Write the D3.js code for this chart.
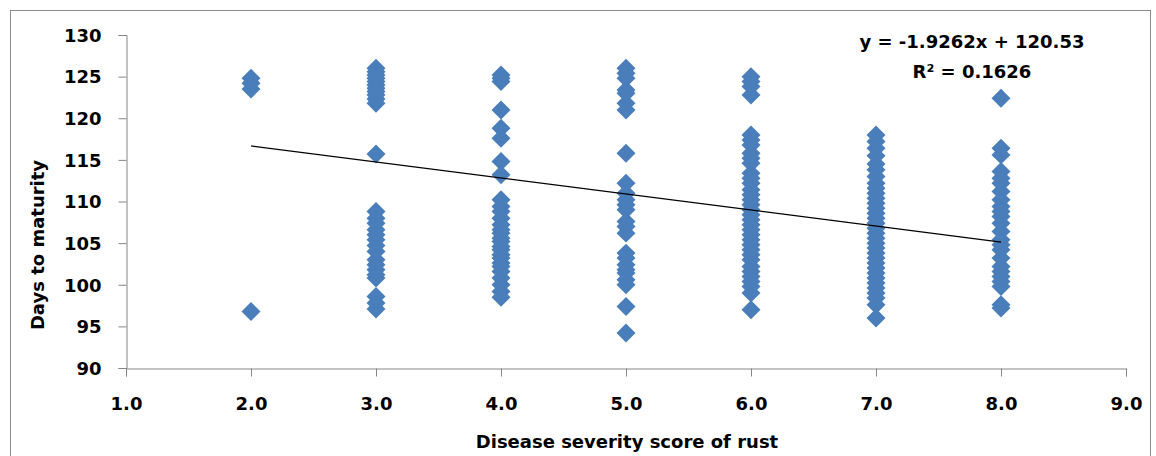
<!DOCTYPE html>
<html>
<head>
<meta charset="utf-8">
<script src="https://cdn.jsdelivr.net/npm/d3@7"></script>
<style>
  body { margin: 0; background: #fff; }
  svg text { font-family: "DejaVu Sans", sans-serif; font-weight: bold; fill: #000; }
</style>
</head>
<body>
<svg id="chart" width="1156" height="456"></svg>
<script>
// days to maturity, grouped by rust score
const score2 = [124.8, 124.2, 123.5, 96.8];
const score3 = [126.0, 125.6, 125.2, 124.8, 124.4, 124.0, 123.6, 123.2, 122.8, 122.3, 121.8,
                115.7, 108.8, 108.0, 107.4, 106.6, 106.0, 105.4, 104.7, 104.0, 103.0, 102.4,
                101.8, 101.2, 100.8, 98.6, 97.8, 97.1];
const score4 = [125.2, 124.8, 124.4, 121.0, 118.8, 117.6, 114.8, 113.2, 110.2, 109.4, 108.8,
                108.0, 107.2, 106.6, 106.2, 105.6, 105.2, 104.6, 104.2, 103.6, 103.2, 102.6,
                102.2, 101.6, 100.8, 100.0, 99.2, 98.5];
const score5 = [126.0, 125.4, 124.8, 123.4, 123.0, 121.8, 121.0, 115.8, 112.2, 111.0, 110.2,
                109.6, 109.0, 107.6, 107.0, 106.2, 103.8, 103.2, 102.4, 101.8, 101.4, 100.6,
                100.0, 97.4, 94.2];
const score6 = [125.0, 124.4, 123.8, 122.8, 118.0, 117.4, 116.8, 115.8, 115.2, 114.6, 113.4,
                112.8, 112.2, 111.4, 110.8, 110.2, 109.6, 109.0, 108.4, 107.8, 107.2, 106.6,
                106.0, 105.4, 104.8, 104.2, 103.6, 103.0, 102.2, 101.6, 101.0, 100.4, 99.8,
                99.0, 97.0];
const score7 = [118.0, 117.2, 116.4, 115.5, 114.5, 113.8, 113.0, 112.2, 111.6, 111.0, 110.4,
                109.8, 109.2, 108.6, 108.0, 107.4, 106.8, 106.2, 105.6, 105.0, 104.4, 103.8,
                103.2, 102.6, 102.0, 101.4, 100.8, 100.2, 99.6, 99.0, 98.4, 97.6, 96.0];
const score8 = [122.4, 116.4, 115.6, 113.6, 112.8, 112.2, 111.2, 110.2, 109.4, 108.8, 108.2,
                107.4, 106.4, 105.4, 104.8, 104.2, 103.2, 102.2, 101.6, 101.0, 100.4, 99.8,
                97.6, 97.2];
const groups = [[2, score2], [3, score3], [4, score4], [5, score5], [6, score6], [7, score7], [8, score8]];

const xTicks = [1, 2, 3, 4, 5, 6, 7, 8, 9];
const yTicks = [90, 95, 100, 105, 110, 115, 120, 125, 130];
const slope = -1.9262, intercept = 120.53;
const eqLabel = 'y = -1.9262x + 120.53';
const r2Label = 'R² = 0.1626';

const svg = d3.select('#chart');

// outer chart frame
svg.append('rect')
    .attr('x', 10.5).attr('y', 10.5)
    .attr('width', 1140).attr('height', 470)
    .attr('fill', 'none').attr('stroke', '#8c8c8c');

const x = d3.scaleLinear().domain([1, 9]).range([126, 1126]);
const y = d3.scaleLinear().domain([90, 130]).range([368, 35]);

const axisColor = '#868686';

// y axis
const yAxis = svg.append('g')
    .attr('transform', 'translate(126.5,0)')
    .call(d3.axisLeft(y).tickValues(yTicks).tickSize(8).tickPadding(17).tickFormat(d3.format('d')));
yAxis.select('.domain').attr('stroke', axisColor);
yAxis.selectAll('.tick line').attr('stroke', axisColor);
yAxis.selectAll('.tick text').attr('font-size', 18).attr('dy', '0.35em');

// x axis
const xAxis = svg.append('g')
    .attr('transform', 'translate(0,368.5)')
    .call(d3.axisBottom(x).tickValues(xTicks).tickSize(8).tickPadding(21).tickFormat(d3.format('.1f')));
xAxis.select('.domain').attr('stroke', axisColor);
xAxis.selectAll('.tick line').attr('stroke', axisColor);
xAxis.selectAll('.tick text').attr('font-size', 18);

// axis titles
svg.append('text')
    .attr('x', 627).attr('y', 448)
    .attr('text-anchor', 'middle')
    .attr('font-size', 18)
    .text('Disease severity score of rust');

svg.append('text')
    .attr('transform', 'translate(44,245) rotate(-90)')
    .attr('text-anchor', 'middle')
    .attr('font-size', 18)
    .text('Days to maturity');

// points
const points = [];
groups.forEach(([s, vals]) => vals.forEach(v => points.push({ s, v })));

const diamond = d3.symbol().type(d3.symbolSquare).size(180);
svg.append('g')
    .selectAll('path')
    .data(points)
    .enter().append('path')
    .attr('d', diamond)
    .attr('transform', d => `translate(${x(d.s)},${y(d.v)}) rotate(45)`)
    .attr('fill', '#4a7ebb');

// linear trendline across the data range
const xMin = d3.min(points, d => d.s), xMax = d3.max(points, d => d.s);
svg.append('line')
    .attr('x1', x(xMin)).attr('y1', y(slope * xMin + intercept))
    .attr('x2', x(xMax)).attr('y2', y(slope * xMax + intercept))
    .attr('stroke', '#000').attr('stroke-width', 1.3);

// equation label
svg.append('text')
    .attr('x', 972).attr('y', 48)
    .attr('text-anchor', 'middle')
    .attr('font-size', 18)
    .text(eqLabel);
svg.append('text')
    .attr('x', 972).attr('y', 78)
    .attr('text-anchor', 'middle')
    .attr('font-size', 18)
    .text(r2Label);
</script>
</body>
</html>
